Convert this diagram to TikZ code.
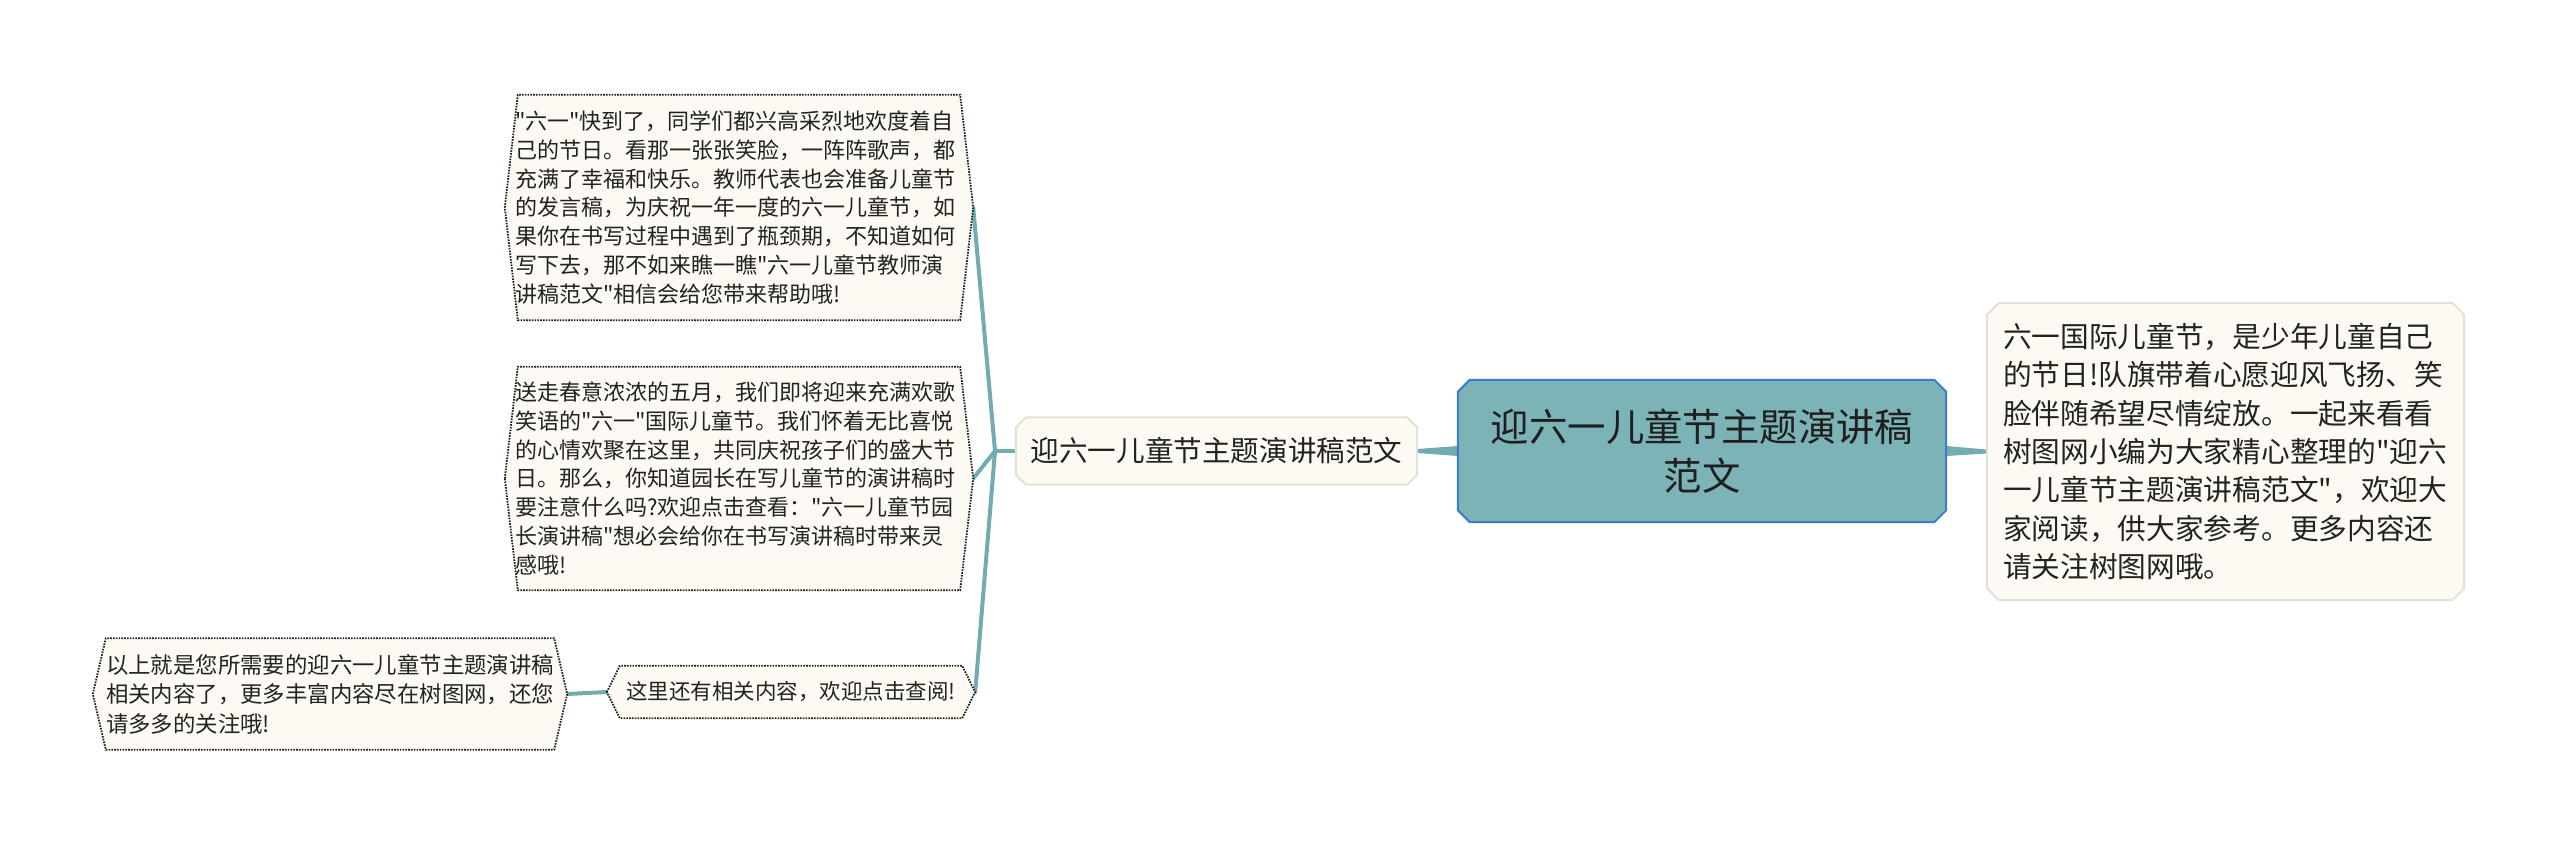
\documentclass[tikz,border=0pt]{standalone}
\usepackage{fontspec}
\newfontfamily\cjk{Noto Sans CJK SC}
\usetikzlibrary{calc,backgrounds}
\definecolor{teal1}{HTML}{70ACB1}
\definecolor{cfill}{HTML}{7BB3B6}
\definecolor{cborder}{HTML}{3D7CCF}
\definecolor{cream}{HTML}{FCFAF2}
\definecolor{lgray}{HTML}{E4E2D8}
\definecolor{dotc}{HTML}{1E1E1E}
\definecolor{txt}{HTML}{222222}
\newcommand\mychamf[3]{\path[#3] ($(#1.north west)+(#2,0)$) -- ($(#1.north east)+(-#2,0)$) -- ($(#1.north east)+(0,#2)$) -- ($(#1.south east)+(0,-#2)$) -- ($(#1.south east)+(-#2,0)$) -- ($(#1.south west)+(#2,0)$) -- ($(#1.south west)+(0,-#2)$) -- ($(#1.north west)+(0,#2)$) -- cycle;}
\newcommand\myhex[3]{\path[#3] (#1.west) -- ($(#1.north west)+(#2,0)$) -- ($(#1.north east)+(-#2,0)$) -- (#1.east) -- ($(#1.south east)+(-#2,0)$) -- ($(#1.south west)+(#2,0)$) -- cycle;}
\begin{document}
\begin{tikzpicture}[x=1pt,y=-1pt,
  every node/.style={text=txt, inner sep=0pt, rectangle},
  conn/.style={draw=teal1, line width=4pt, line cap=round, line join=round},
  leafbox/.style={fill=cream, draw=dotc, line width=1.8pt, dash pattern=on 1.6pt off 1.2pt},
  creambox/.style={fill=cream, draw=lgray, line width=2pt},
  centralbox/.style={fill=cfill, draw=cborder, line width=2pt},
  leaftext/.style={font=\cjk\fontsize{22}{28.8}\selectfont, align=left}]
\useasboundingbox (0,0) rectangle (2560,845);
% central
\node[minimum width=488pt, minimum height=142pt, align=center,
  font=\cjk\fontsize{38.4}{49}\selectfont, text=txt!90!black] (c) at (1702,451)
  {迎六一儿童节主题演讲稿\\范文};
% right
\node[minimum width=477pt, minimum height=297pt, inner xsep=16pt, text width=445pt,
  align=left, font=\cjk\fontsize{28.7}{38.3}\selectfont] (r) at (2225.5,451.5)
  {六一国际儿童节，是少年儿童自己\\的节日!队旗带着心愿迎风飞扬、笑\\脸伴随希望尽情绽放。一起来看看\\树图网小编为大家精心整理的"迎六\\一儿童节主题演讲稿范文"，欢迎大\\家阅读，供大家参考。更多内容还\\请关注树图网哦。};
% sub
\node[minimum width=401pt, minimum height=67pt, font=\cjk\fontsize{28.6}{34}\selectfont]
  (s) at (1216.5,451) {迎六一儿童节主题演讲稿范文};
% leaves
\node[leaftext, minimum width=468pt, minimum height=225pt, inner xsep=10pt, text width=448pt]
  (l1) at (739,207.5)
  {"六一"快到了，同学们都兴高采烈地欢度着自\\己的节日。看那一张张笑脸，一阵阵歌声，都\\充满了幸福和快乐。教师代表也会准备儿童节\\的发言稿，为庆祝一年一度的六一儿童节，如\\果你在书写过程中遇到了瓶颈期，不知道如何\\写下去，那不如来瞧一瞧"六一儿童节教师演\\讲稿范文"相信会给您带来帮助哦!};
\node[leaftext, minimum width=468pt, minimum height=223pt, inner xsep=10pt, text width=448pt]
  (l2) at (739,478.5)
  {送走春意浓浓的五月，我们即将迎来充满欢歌\\笑语的"六一"国际儿童节。我们怀着无比喜悦\\的心情欢聚在这里，共同庆祝孩子们的盛大节\\日。那么，你知道园长在写儿童节的演讲稿时\\要注意什么吗?欢迎点击查看："六一儿童节园\\长演讲稿"想必会给你在书写演讲稿时带来灵\\感哦!};
\node[minimum width=368pt, minimum height=52pt, align=center,
  font=\cjk\fontsize{21.5}{28}\selectfont] (l3) at (791,692)
  {这里还有相关内容，欢迎点击查阅!};
\node[leaftext, font=\cjk\fontsize{22.4}{29.5}\selectfont, minimum width=474pt,
  minimum height=111pt, inner xsep=13pt, text width=448pt] (l4) at (330,694)
  {以上就是您所需要的迎六一儿童节主题演讲稿\\相关内容了，更多丰富内容尽在树图网，还您\\请多多的关注哦!};
\coordinate (b) at (995,451);
\begin{pgfonlayer}{background}
  \draw[conn] (s.west) -- (b);
  \draw[conn] (b) -- (l1.east);
  \draw[conn] (b) -- (l2.east);
  \draw[conn] (b) -- (l3.east);
  \draw[conn] (l3.west) -- (l4.east);
  \fill[teal1] ($(c.west)+(0,-5)$) -- ($(c.west)+(0,5)$) -- ($(s.east)+(0,2)$) -- ($(s.east)+(0,-2)$) -- cycle;
  \fill[teal1] ($(c.east)+(0,-5)$) -- ($(c.east)+(0,5)$) -- ($(r.west)+(0,2)$) -- ($(r.west)+(0,-2)$) -- cycle;
  \mychamf{c}{12}{centralbox}
  \mychamf{r}{12}{creambox}
  \mychamf{s}{10}{creambox}
  \myhex{l1}{13}{leafbox}
  \myhex{l2}{13}{leafbox}
  \myhex{l3}{13}{leafbox}
  \myhex{l4}{13}{leafbox}
\end{pgfonlayer}
\end{tikzpicture}
\end{document}
